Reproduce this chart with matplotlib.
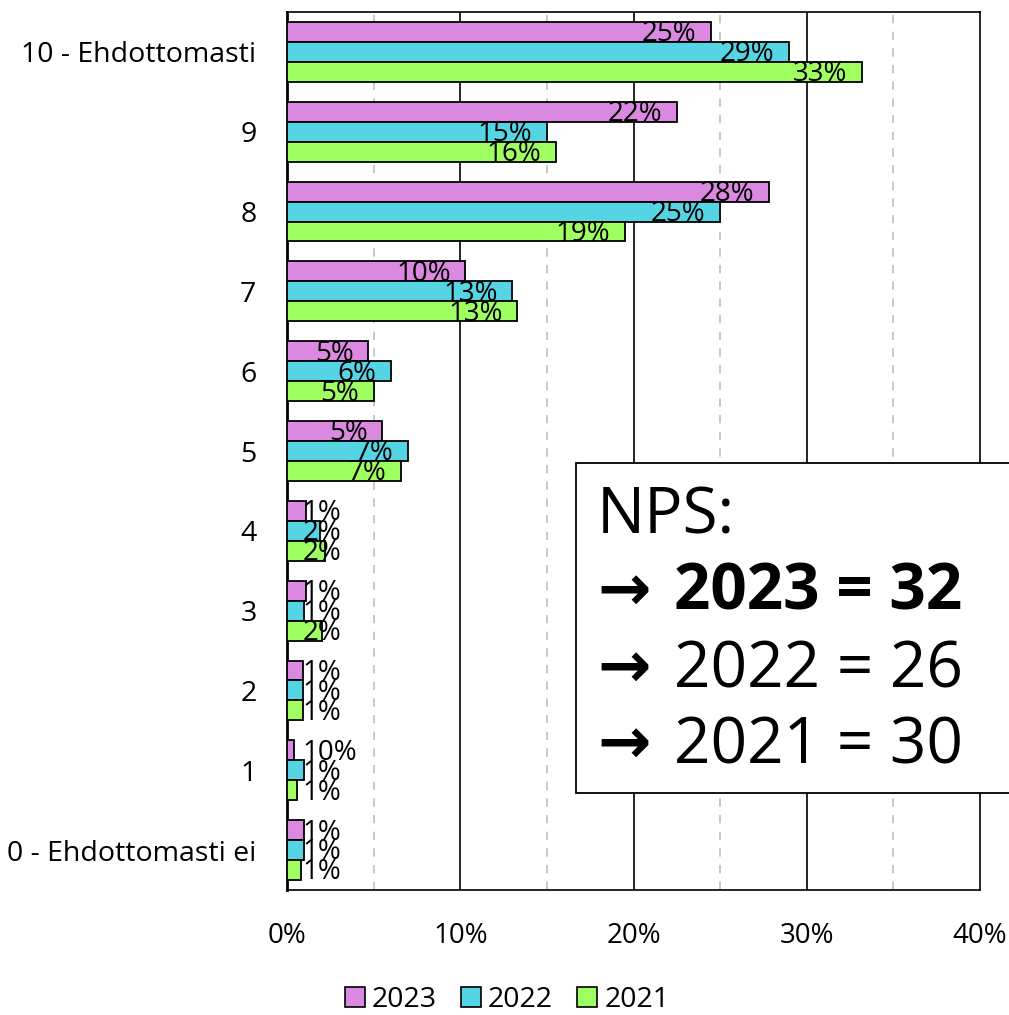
import matplotlib
matplotlib.use("Agg")
import matplotlib.pyplot as plt
from matplotlib.patches import Rectangle, Patch
import numpy as np

plt.rcParams['font.family'] = ['Open Sans', 'DejaVu Sans']

categories = ["0 - Ehdottomasti ei", "1", "2", "3", "4", "5", "6", "7", "8", "9", "10 - Ehdottomasti"]
series_names = ["2023", "2022", "2021"]
v2023 = [1.0, 0.4, 0.9, 1.1, 1.1, 5.5, 4.7, 10.3, 27.8, 22.5, 24.5]
v2022 = [1.0, 1.0, 0.9, 1.0, 1.9, 7.0, 6.0, 13.0, 25.0, 15.0, 29.0]
v2021 = [0.8, 0.6, 0.9, 2.0, 2.2, 6.6, 5.0, 13.3, 19.5, 15.5, 33.2]
l2023 = ["1%", "10%", "1%", "1%", "1%", "5%", "5%", "10%", "28%", "22%", "25%"]
l2022 = ["1%", "1%", "1%", "1%", "2%", "7%", "6%", "13%", "25%", "15%", "29%"]
l2021 = ["1%", "1%", "1%", "2%", "2%", "7%", "5%", "13%", "19%", "16%", "33%"]
colors = ["#DA88E0", "#55D5E3", "#A0FF60"]
xticks = [0, 10, 20, 30, 40]
xticklabels = ["0%", "10%", "20%", "30%", "40%"]
nps_title = "NPS:"
nps_lines = ["2023 = 32", "2022 = 26", "2021 = 30"]

fig = plt.figure(figsize=(10.09, 10.15), dpi=100)
ax = fig.add_axes([287/1009, 1-890/1015, (980-287)/1009, (890-12)/1015])

y = np.arange(len(categories))
h = 0.25
offsets = [h, 0, -h]
for vals, labs, col, off, name in zip([v2023, v2022, v2021], [l2023, l2022, l2021], colors, offsets, series_names):
    ax.barh(y + off, vals, height=h, color=col, edgecolor='black', linewidth=1.3, zorder=3, label=name)
    for yi, v, lab in zip(y, vals, labs):
        if v >= 4:
            ax.text(v - 0.85, yi + off - 0.03, lab, ha='right', va='center', fontsize=20, zorder=4)
        else:
            ax.text(0.9, yi + off - 0.03, lab, ha='left', va='center', fontsize=20, zorder=4)

ax.set_xlim(0, 40)
ax.set_ylim(-0.5, len(categories) - 0.5)
ax.set_yticks(y)
ax.set_yticklabels(categories, fontsize=20.5)
ax.set_xticks(xticks)
ax.set_xticklabels(xticklabels, fontsize=20)
ax.tick_params(axis='y', length=0, pad=22)
ax.tick_params(axis='x', length=0, pad=23)
for x in [10, 20, 30]:
    ax.axvline(x, color='black', linewidth=1.2, zorder=1)
for x in [5, 15, 25, 35]:
    ax.axvline(x, color='#BFBFBF', linewidth=1.2, linestyle=(0, (5, 5)), zorder=1)
for s in ax.spines.values():
    s.set_linewidth(1.2)
    s.set_color('black')
ax.spines['left'].set_linewidth(2.0)

handles = [Patch(facecolor=c, edgecolor='black', linewidth=1.2) for c in colors]
fig.legend(handles, series_names, loc='center', bbox_to_anchor=(507/1009, 1-1000/1015), ncol=3,
           frameon=False, fontsize=20.5, handlelength=0.7, handleheight=0.7, handletextpad=0.25,
           columnspacing=0.85)

# NPS box
rect = Rectangle((576/1009, 1-793/1015), 0.5, (793-463)/1015, transform=fig.transFigure,
                 facecolor='white', edgecolor='black', linewidth=1.3, zorder=5)
fig.patches.append(rect)
fig.text(597/1009, 1-533/1015, nps_title, fontsize=46, va='baseline', ha='left', zorder=6)
baselines = [610, 687, 763]
for i, (line, bl) in enumerate(zip(nps_lines, baselines)):
    fig.text(597/1009, 1-bl/1015, "\u2192", fontsize=46, va='baseline', ha='left',
             family='DejaVu Sans', fontweight='bold', zorder=6)
    fig.text(674/1009, 1-bl/1015, line, fontsize=46, va='baseline', ha='left',
             fontweight='bold' if i == 0 else 'normal', zorder=6)

fig.savefig("out.png", dpi=100)
